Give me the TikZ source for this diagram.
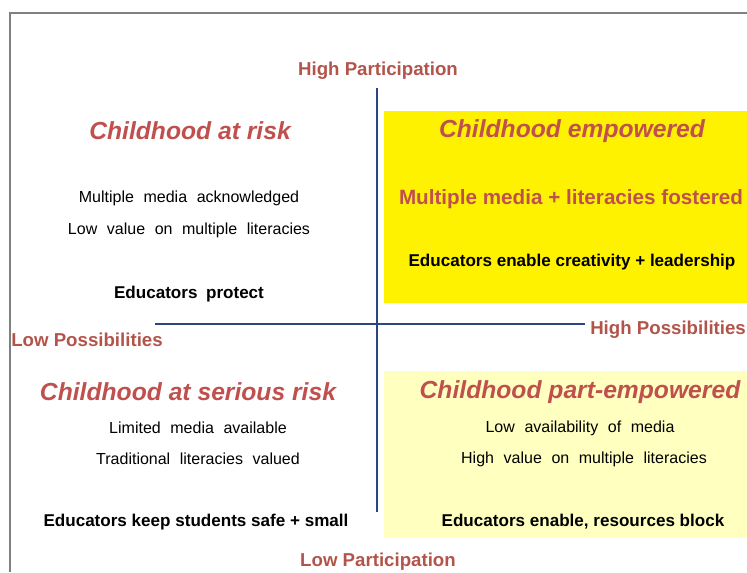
\documentclass[tikz,border=0pt]{standalone}
\usepackage{fontspec}
\setmainfont{Liberation Sans}
\usetikzlibrary{positioning}
\definecolor{quadred}{RGB}{192,80,77}
\definecolor{axisred}{RGB}{178,84,74}
\definecolor{axisblue}{RGB}{40,70,130}
\definecolor{paleyellow}{RGB}{255,255,192}
\newcommand\widewords[1]{\spaceskip=#1em\relax}

\begin{document}
\begin{tikzpicture}[x=0.75pt,y=-0.75pt,
  quadtitle/.style={font=\fontsize{18.5}{20}\selectfont\bfseries\itshape,text=quadred,inner sep=0pt},
  quadtext/.style={font=\fontsize{12}{14}\selectfont\widewords{0.6},inner sep=0pt},
  quadkey/.style={font=\fontsize{12.8}{14}\selectfont\bfseries,inner sep=0pt},
  axislabel/.style={font=\fontsize{14}{16}\selectfont\bfseries,text=axisred,inner sep=0pt}]
  \useasboundingbox (0,0) rectangle (747,572);
  % frame
  \draw[line width=1.2pt,gray] (10,572)--(10,13)--(747,13);
  % quadrant backgrounds
  \fill[yellow] (384,111) rectangle (747,303);
  \fill[paleyellow] (384,371) rectangle (747,538);
  % axes
  \coordinate (ptop) at (377,88); \coordinate (pbot) at (377,512);
  \coordinate (pleft) at (155,324); \coordinate (pright) at (585,324);
  \draw[line width=1.5pt,axisblue] (ptop)--(pbot);
  \draw[line width=1.5pt,axisblue] (pleft)--(pright);
  % axis labels
  \node[axislabel] (highpart) at (378,71) {High Participation};
  \node[axislabel] (lowpart) at (378,562) {Low Participation};
  \node[axislabel,anchor=west] (lowposs) at (11,340) {Low Possibilities};
  \node[axislabel,anchor=west] (highposs) at (590,330) {High Possibilities};
  % top left
  \node[quadtitle] (risk) at (190,131) {Childhood at risk};
  \node[quadtext] (riskA) at (189,198) {Multiple media acknowledged};
  \node[quadtext] (riskB) at (189,230) {Low value on multiple literacies};
  \node[quadkey,font=\fontsize{12.8}{14}\selectfont\bfseries\widewords{0.5}] (riskC) at (189,294) {Educators protect};
  % top right
  \node[quadtitle] (emp) at (572,131) {Childhood empowered};
  \node[quadkey,font=\fontsize{15.5}{17}\selectfont\bfseries,text=quadred] (empA) at (571,199) {Multiple media + literacies fostered};
  \node[quadkey] (empB) at (572,262) {Educators enable creativity + leadership};
  % bottom left
  \node[quadtitle] (serious) at (188,392) {Childhood at serious risk};
  \node[quadtext] (seriousA) at (198,428) {Limited media available};
  \node[quadtext] (seriousB) at (198,459) {Traditional literacies valued};
  \node[quadkey] (seriousC) at (196,522) {Educators keep students safe + small};
  % bottom right
  \node[quadtitle] (part) at (580,392) {Childhood part-empowered};
  \node[quadtext] (partA) at (580,428) {Low availability of media};
  \node[quadtext] (partB) at (584,459) {High value on multiple literacies};
  \node[quadkey] (partC) at (583,522) {Educators enable, resources block};
\end{tikzpicture}
\end{document}
